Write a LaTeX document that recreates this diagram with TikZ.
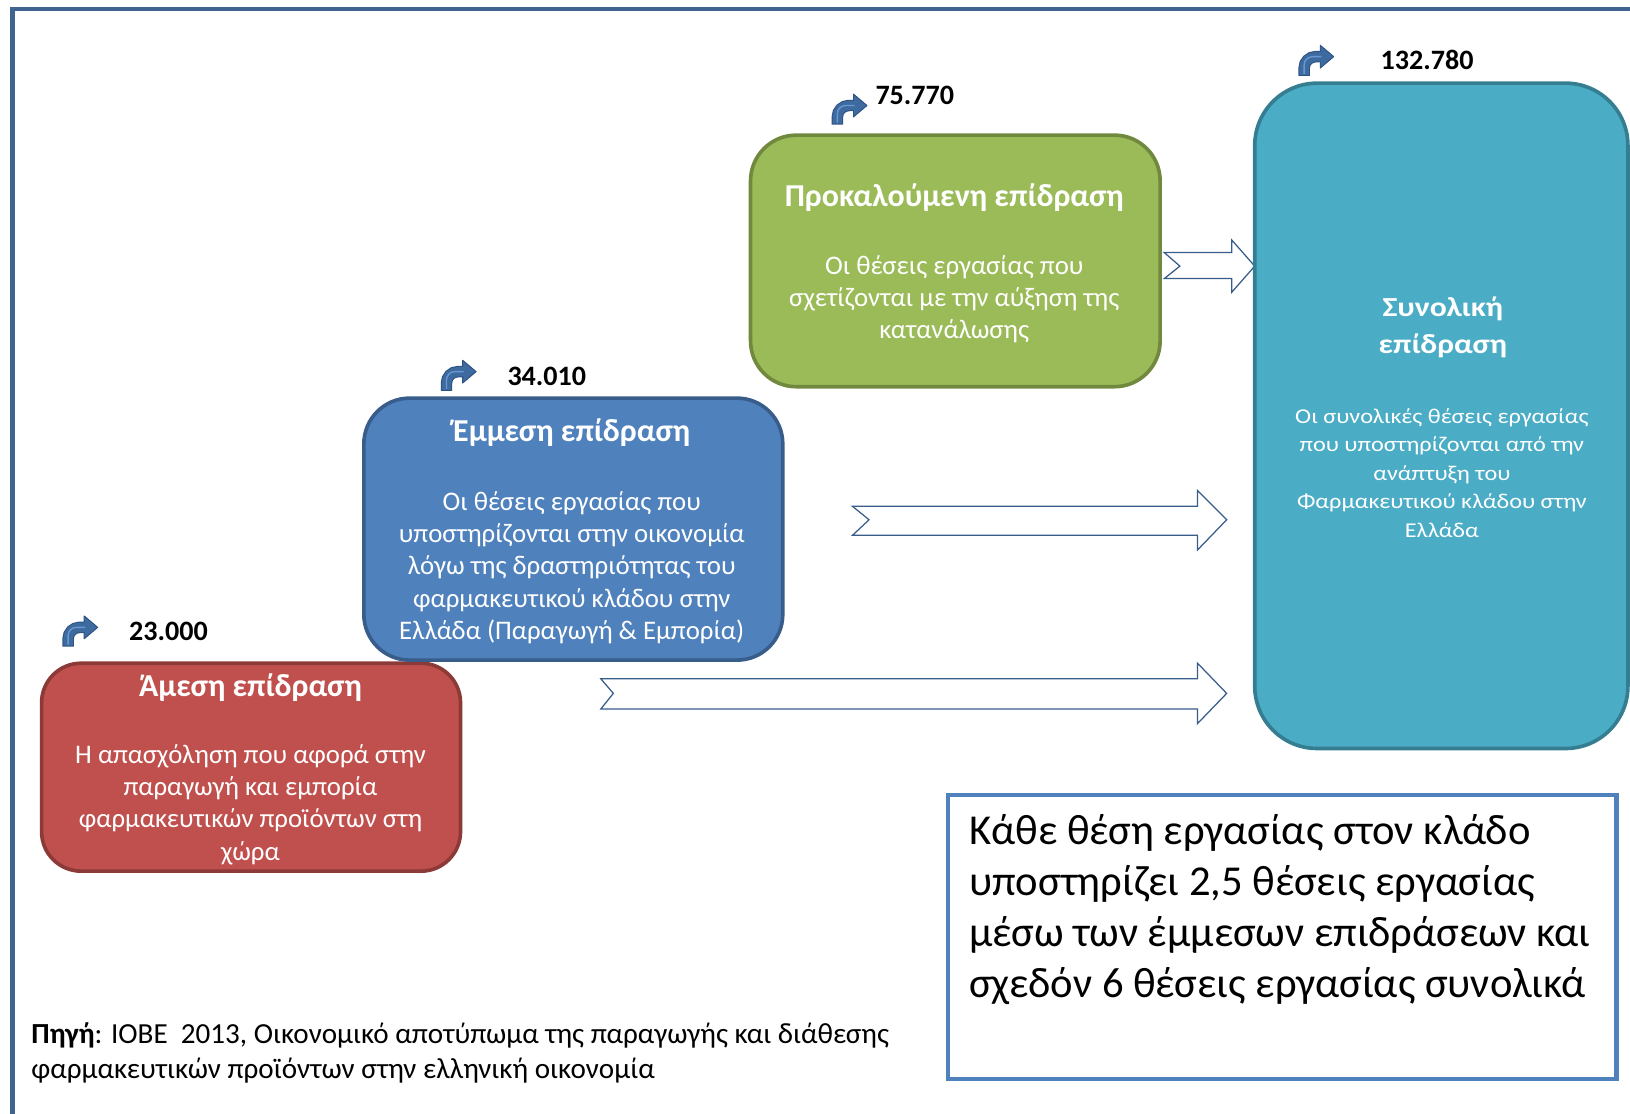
\documentclass[tikz,border=0pt]{standalone}
\usepackage{fontspec}
\setmainfont{Carlito}
\newfontfamily\widefont[FakeStretch=1.15]{Carlito}
\definecolor{framec}{HTML}{41638F}
\definecolor{redf}{HTML}{C0504D}
\definecolor{redd}{HTML}{8C3A37}
\definecolor{bluef}{HTML}{4F81BD}
\definecolor{blued}{HTML}{385D8A}
\definecolor{greenf}{HTML}{9BBB59}
\definecolor{greend}{HTML}{71893F}
\definecolor{tealf}{HTML}{4BACC6}
\definecolor{teald}{HTML}{357D91}
\definecolor{arrowc}{HTML}{385D8A}
\definecolor{iconfill}{HTML}{3D6BA0}
\definecolor{iconedge}{HTML}{2D5182}
\definecolor{iconlight}{HTML}{6A98D0}
\begin{document}
\begin{tikzpicture}[x=1pt,y=-1pt,
  box/.style={rounded corners=#1, line width=3.5pt, minimum width=0pt, minimum height=0pt, inner sep=0pt},
  ttl/.style={text=white, font=\bfseries\fontsize{30.7}{36}\selectfont, align=center, inner sep=0pt},
  body/.style={text=white, font=\fontsize{25.8}{31}\selectfont, align=center, inner sep=0pt},
  num/.style={font=\bfseries\fontsize{27}{30}\selectfont, anchor=west, inner sep=0pt},
  hollow/.style={draw=arrowc, fill=white, line width=1.2pt, line join=miter},
  bent/.pic={
    \filldraw[fill=iconfill, draw=iconedge, line width=0.9pt, line join=round] (21,1.5) -- (34,12.5) -- (21,23.5) -- cycle;
    \draw[iconedge, line width=11pt, rounded corners=11pt] (5.5,31) -- (5.5,12.5) -- (21.5,12.5);
    \draw[iconfill, line width=9pt, rounded corners=11pt] (5.5,30) -- (5.5,12.5) -- (22.5,12.5);
    \draw[iconlight, line width=1.3pt, rounded corners=8pt] (5.5,29) -- (5.5,12.5) -- (22,12.5);
  }]
\useasboundingbox (0,0) rectangle (1568,1071);
\clip (0,0) rectangle (1568,1071);
% outer frame
\draw[framec, line width=4pt] (12,9) rectangle (1620,1120);

% hollow arrows
\draw[hollow] (578,653) -- (1152,653) -- (1152,638) -- (1180,667) -- (1152,696) -- (1152,682) -- (578,682) -- (590,667) -- cycle;
\draw[hollow] (820,487) -- (1152,487) -- (1152,472) -- (1180,500) -- (1152,529) -- (1152,515) -- (820,515) -- (836,500) -- cycle;
\draw[hollow] (1120,243) -- (1185,243) -- (1185,231) -- (1207,256) -- (1185,281) -- (1185,268) -- (1120,268) -- (1135,256) -- cycle;

% boxes
\node[box=38pt, fill=redf, draw=redd, minimum width=403pt, minimum height=200pt] (direct) at (241.5,738) {};
\node[box=44pt, fill=bluef, draw=blued, minimum width=403pt, minimum height=252pt] (indirect) at (551.5,509) {};
\node[box=44pt, fill=greenf, draw=greend, minimum width=394pt, minimum height=242pt] (induced) at (919,251) {};
\node[box=60pt, fill=tealf, draw=teald, minimum width=359pt, minimum height=640pt] (total) at (1386.5,400) {};
\node[draw=bluef, line width=4pt, minimum width=643pt, minimum height=273pt, inner sep=0pt] (note) at (1233.5,901.5) {};

% texts
\node[ttl] (t1) at (241,661) {Άμεση επίδραση};
\node[body] (b1) at (241,774) {Η απασχόληση που αφορά στην\\παραγωγή και εμπορία\\φαρμακευτικών προϊόντων στη\\χώρα};
\node[ttl] (t2) at (550,416) {Έμμεση επίδραση};
\node[body] (b2) at (550,546) {Οι θέσεις εργασίας που\\υποστηρίζονται στην οικονομία\\λόγω της δραστηριότητας του\\φαρμακευτικού κλάδου στην\\Ελλάδα (Παραγωγή \& Εμπορία)};
\node[ttl] (t3) at (918,190) {Προκαλούμενη επίδραση};
\node[body] (b3) at (918,288) {Οι θέσεις εργασίας που\\σχετίζονται με την αύξηση της\\κατανάλωσης};
\node[ttl, font=\widefont\bfseries\fontsize{26.5}{36}\selectfont] (t4) at (1388,315) {Συνολική\\επίδραση};
\node[body, font=\widefont\fontsize{20.3}{27.5}\selectfont] (b4) at (1387,455) {Οι συνολικές θέσεις εργασίας\\που υποστηρίζονται από την\\ανάπτυξη του\\Φαρμακευτικού κλάδου στην\\Ελλάδα};

% numbers and icons
\pic at (60,591) {bent};
\node[num] (n1) at (124,607) {23.000};
\pic at (424,345) {bent};
\node[num] (n2) at (488,362) {34.010};
\pic at (800,89) {bent};
\node[num] (n3) at (842,92) {75.770};
\pic at (1249,42) {bent};
\node[num] (n4) at (1328,58) {132.780};

% note text
\node[anchor=west, align=left, inner sep=0pt, font=\fontsize{41}{49}\selectfont] (nt) at (932,875) {Κάθε θέση εργασίας στον κλάδο\\υποστηρίζει 2,5 θέσεις εργασίας\\μέσω των έμμεσων επιδράσεων και\\σχεδόν 6 θέσεις εργασίας συνολικά};

% source
\node[anchor=west, align=left, inner sep=0pt, font=\fontsize{28}{34}\selectfont] (src) at (30,1013) {\textbf{Πηγή}: ΙΟΒΕ~ 2013, Οικονομικό αποτύπωμα της παραγωγής και διάθεσης\\φαρμακευτικών προϊόντων στην ελληνική οικονομία};
\end{tikzpicture}
\end{document}
